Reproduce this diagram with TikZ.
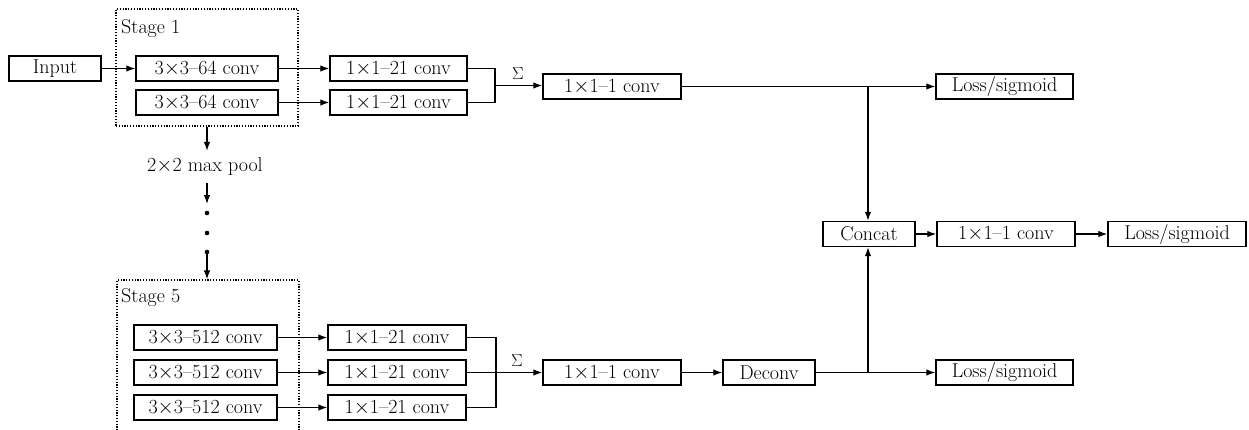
\documentclass[tikz,border=0pt]{standalone}
\usetikzlibrary{arrows.meta,calc}
\begin{document}
\begin{tikzpicture}[x=1pt,y=-1pt,
  every node/.style={font=\fontsize{20}{23}\selectfont},
  blk/.style={draw,line width=1.4pt,minimum height=25pt,inner sep=0pt,anchor=center},
  stagebox/.style={draw,line width=1.2pt,dash pattern=on 1.2pt off 1.6pt,inner sep=0pt,anchor=center},
  arr/.style={line width=1.3pt,-{Latex[length=9pt,width=6.5pt]}},
  ln/.style={line width=1.3pt}]
\clip (0,0) rectangle (1249,429);
% Stage boxes
\node[stagebox,minimum width=182pt,minimum height=117pt] (stage1) at (207,67.5) {};
\node[stagebox,minimum width=182pt,minimum height=170pt] (stage5) at (208,365) {};
\node[anchor=west,inner sep=0pt] (st1) at (121,29) {Stage 1};
\node[anchor=west,inner sep=0pt] (st5) at (121,298) {Stage 5};
% Stage 1 row
\node[blk,minimum width=92pt] (input) at (55,68.5) {Input};
\node[blk,minimum width=142pt] (s1a) at (207,68.5) {3$\times$3--64 conv};
\node[blk,minimum width=142pt] (s1b) at (207,102.5) {3$\times$3--64 conv};
\node[blk,minimum width=137pt] (c1a) at (398.5,68.5) {1$\times$1--21 conv};
\node[blk,minimum width=137pt] (c1b) at (398.5,102.5) {1$\times$1--21 conv};
\node[blk,minimum width=138pt] (f1) at (612,86.5) {1$\times$1--1 conv};
\node[blk,minimum width=137pt] (loss1) at (1004.5,86.5) {Loss/sigmoid};
% Stage 5 rows
\node[blk,minimum width=143pt] (s5a) at (205.5,337.5) {3$\times$3--512 conv};
\node[blk,minimum width=143pt] (s5b) at (205.5,372.5) {3$\times$3--512 conv};
\node[blk,minimum width=143pt] (s5c) at (205.5,407.5) {3$\times$3--512 conv};
\node[blk,minimum width=138pt] (c5a) at (397,337.5) {1$\times$1--21 conv};
\node[blk,minimum width=138pt] (c5b) at (397,372.5) {1$\times$1--21 conv};
\node[blk,minimum width=138pt] (c5c) at (397,407.5) {1$\times$1--21 conv};
\node[blk,minimum width=138pt] (f5) at (612,372.5) {1$\times$1--1 conv};
\node[blk,minimum width=92pt] (deconv) at (769,372.5) {Deconv};
\node[blk,minimum width=137pt] (loss2) at (1004.5,372.5) {Loss/sigmoid};
% fusion
\node[blk,minimum width=92pt] (concat) at (869,234) {Concat};
\node[blk,minimum width=138pt] (f3) at (1006,234) {1$\times$1--1 conv};
\node[blk,minimum width=138pt] (loss3) at (1177,234) {Loss/sigmoid};
% pooling chain
\node[inner sep=7pt] (pool) at (205,167) {2$\times$2 max pool};
\coordinate (d1) at (207,213);
\coordinate (d2) at (207,233);
\coordinate (d3) at (207,252);
\fill (d1) circle (2.3pt) (d2) circle (2.3pt) (d3) circle (2.3pt);
\draw[arr] (stage1.south -| d1) -- (pool.north -| d1);
\draw[arr] (pool.south -| d1) -- ($(d1)+(0,-9)$);
\draw[arr] (d3) -- (stage5.north -| d3);
% stage 1 connections
\draw[arr] (input.east) -- (s1a.west);
\draw[arr] (s1a.east) -- (c1a.west);
\draw[arr] (s1b.east) -- (c1b.west);
\coordinate (j1) at (495,85.5);
\draw[ln] (c1a.east) -| (j1) |- (c1b.east);
\draw[arr] (j1) -- (j1 -| f1.west);
\node[inner sep=0pt,font=\fontsize{17}{19}\selectfont] (sig1) at (518,74) {$\Sigma$};
% stage 5 connections
\draw[arr] (s5a.east) -- (c5a.west);
\draw[arr] (s5b.east) -- (c5b.west);
\draw[arr] (s5c.east) -- (c5c.west);
\coordinate (j5) at (496,372.5);
\draw[ln] (c5a.east) -| (j5) |- (c5c.east);
\draw[ln] (c5b.east) -- (j5);
\draw[arr] (j5) -- (f5.west);
\node[inner sep=0pt,font=\fontsize{17}{19}\selectfont] (sig5) at (517,361) {$\Sigma$};
% right part
\coordinate (k1) at (868,86.5);
\coordinate (k2) at (868,372.5);
\draw[arr] (f1.east) -- (loss1.west);
\draw[arr] (k1) -- (k1 |- concat.north);
\draw[arr] (f5.east) -- (deconv.west);
\draw[arr] (deconv.east) -- (loss2.west);
\draw[arr] (k2) -- (k2 |- concat.south);
\draw[arr] (concat.east) -- (f3.west);
\draw[arr] (f3.east) -- (loss3.west);
\end{tikzpicture}
\end{document}
